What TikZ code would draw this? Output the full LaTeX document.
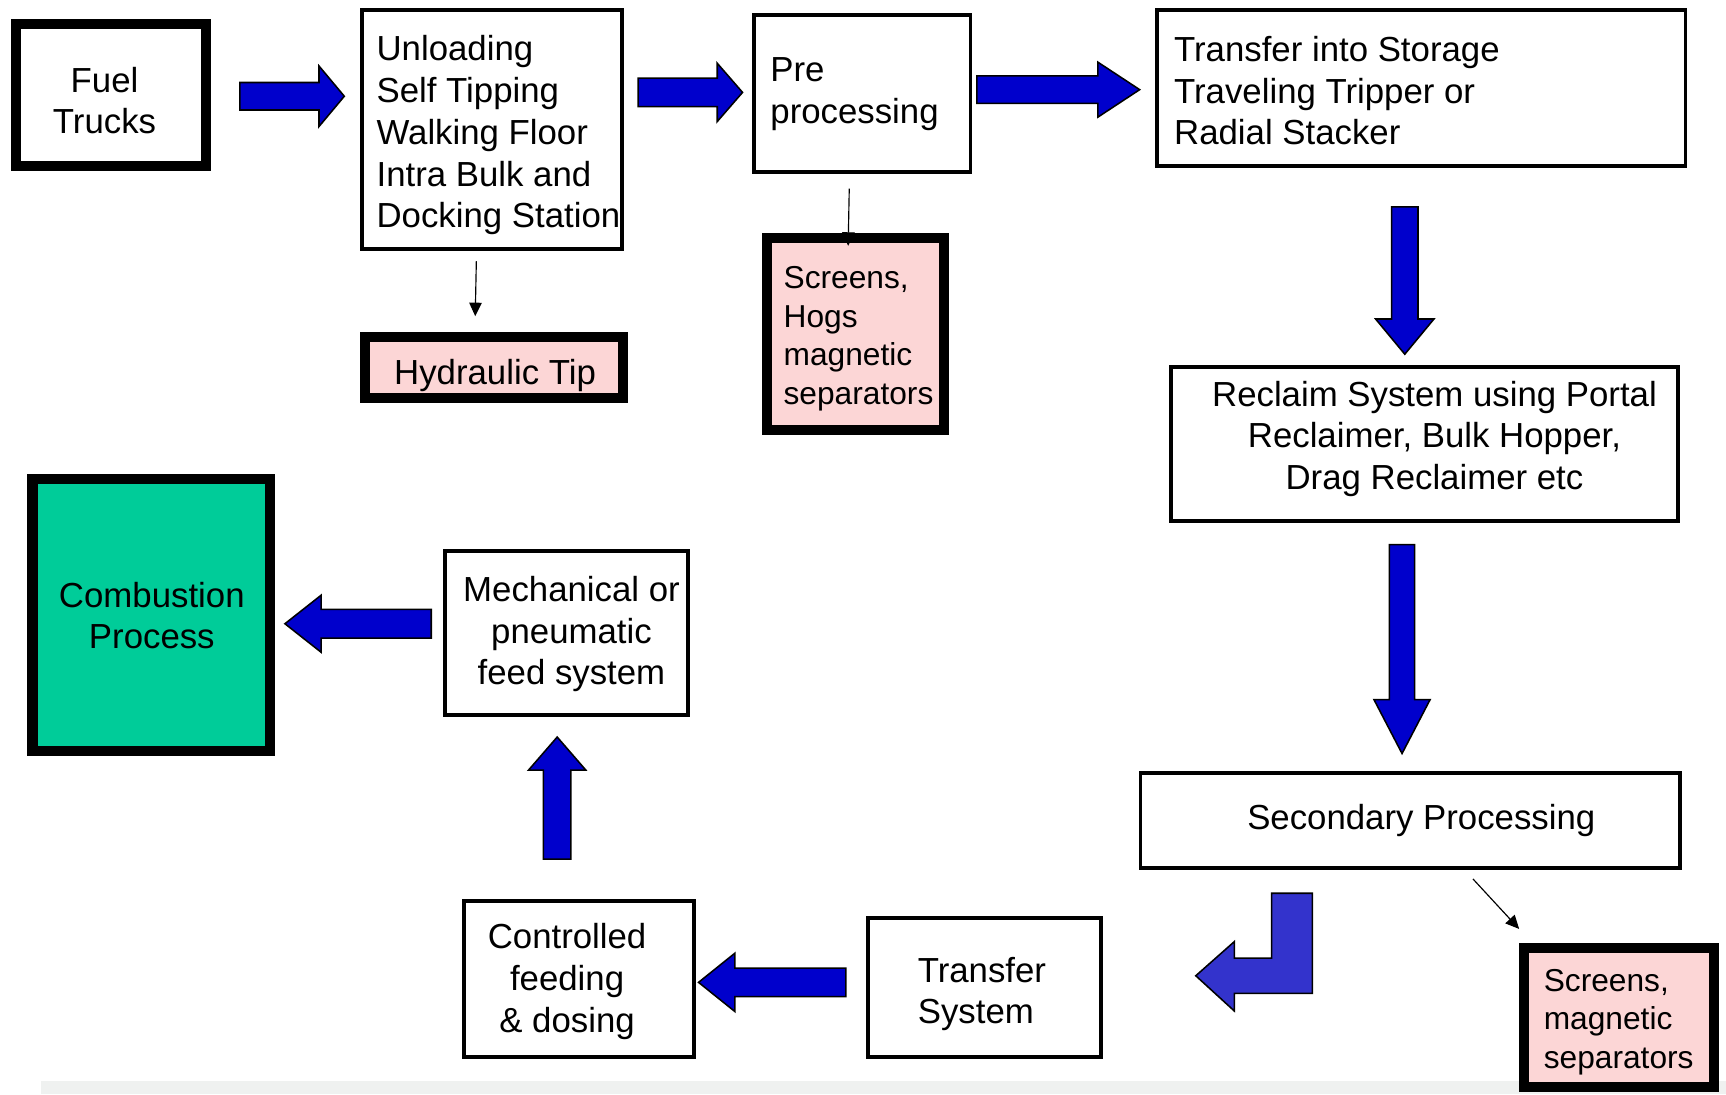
\documentclass[tikz,border=0pt]{standalone}
\usepackage{fontspec}
\setmainfont{Liberation Sans}
\usetikzlibrary{arrows.meta}

\definecolor{flowblue}{RGB}{0,0,204}
\definecolor{bendblue}{RGB}{51,51,204}
\definecolor{sievepink}{RGB}{252,214,214}
\definecolor{burnteal}{RGB}{0,204,153}
\definecolor{stripgray}{RGB}{239,241,240}

\newcommand{\bigfont}{\fontsize{18}{21.6}\selectfont}
\newcommand{\smallfont}{\fontsize{16.4}{19.9}\selectfont}

\tikzset{
  thinbox/.style={draw, line width=2pt, fill=white, inner sep=0pt},
  thickbox/.style={draw, line width=5.2pt, inner sep=0pt},
  sievebox/.style={thickbox, fill=sievepink},
  midtext/.style={inner sep=0pt, font=\bigfont, align=center},
  lefttext/.style={inner sep=0pt, font=\bigfont, align=left, anchor=west},
  flowarrow/.style={fill=flowblue, draw=black, line width=0.8pt},
  thinarrow/.style={-{Triangle[length=7pt,width=6.5pt]}, line width=0.6pt},
  pics/flow/.style n args={4}{code={
    \filldraw[flowarrow] (0,-#2) -- (#1-#4,-#2) -- (#1-#4,-#3) -- (#1,0)
      -- (#1-#4,#3) -- (#1-#4,#2) -- (0,#2) -- cycle;
  }}
}

\begin{document}
\begin{tikzpicture}[x=0.02cm, y=-0.02cm]
    \useasboundingbox (0,0) rectangle (1569,994.5);
    \fill [stripgray] (37,983) rectangle (1569,994.5);

    % top row
    \node [thickbox, minimum width=3.46cm, minimum height=2.58cm] (fuel) at (101,86) {};
    \node [midtext] (fueltxt) at (95,91.5) {Fuel\\Trucks};
    \node [thinbox, minimum width=4.73cm, minimum height=4.35cm] (unload) at (447,117.5) {};
    \node [lefttext] (unloadtxt) at (342,123)
        {Unloading\\Self Tipping\\Walking Floor\\Intra Bulk and\\Docking Station};
    \node [thinbox, minimum width=3.93cm, minimum height=2.85cm] (pre) at (784,85) {};
    \node [lefttext] (pretxt) at (700,85.5) {Pre\\processing};
    \node [thinbox, minimum width=9.61cm, minimum height=2.85cm] (store) at (1292,80) {};
    \node [lefttext] (storetxt) at (1067,82.5) {Transfer into Storage\\Traveling Tripper or\\Radial Stacker};

    \node [sievebox, minimum width=4.70cm, minimum height=1.10cm] (hyd) at (449,334) {};
    \node [midtext] (hydtxt) at (450,341) {Hydraulic Tip};
    \node [sievebox, minimum width=3.22cm, minimum height=3.48cm] (screens) at (778,303.5) {};
    \node [lefttext, font=\smallfont] (screenstxt) at (712,308) {Screens,\\Hogs\\magnetic\\separators};

    % right column
    \node [thinbox, minimum width=9.21cm, minimum height=2.79cm] (reclaim) at (1295,403.5) {};
    \node [midtext] (reclaimtxt) at (1304,399)
        {Reclaim System using Portal\\Reclaimer, Bulk Hopper,\\Drag Reclaimer etc};
    \node [thinbox, minimum width=9.81cm, minimum height=1.73cm] (second) at (1282,746) {};
    \node [midtext] (secondtxt) at (1292,746) {Secondary Processing};
    \node [sievebox, minimum width=3.46cm, minimum height=2.54cm] (screens2) at (1472,925) {};
    \node [lefttext, font=\smallfont] (screens2txt) at (1403,929) {Screens,\\magnetic\\separators};

    % bottom row and feed
    \node [thinbox, minimum width=4.25cm, minimum height=2.53cm] (trans) at (895,898) {};
    \node [lefttext] (transtxt) at (834,903.5) {Transfer\\System};
    \node [thinbox, minimum width=4.19cm, minimum height=2.85cm] (ctrl) at (526.5,890) {};
    \node [midtext] (ctrltxt) at (515.5,892) {Controlled\\feeding\\\& dosing};
    \node [thinbox, minimum width=4.41cm, minimum height=2.99cm] (mech) at (515,575.5) {};
    \node [midtext] (mechtxt) at (519.5,576.5) {Mechanical or\\pneumatic\\feed system};
    \node [thickbox, fill=burnteal, minimum width=4.32cm, minimum height=4.94cm] (comb) at (137.5,559) {};
    \node [midtext] (combtxt) at (138,559.5) {Combustion\\Process};

    % block arrows
    \pic at (218,87.5) {flow={95}{12.5}{27.5}{23}};
    \pic at (580,84) {flow={95}{13}{26.5}{23}};
    \pic at (888,81.5) {flow={148}{12.5}{25}{38}};
    \pic [rotate=-90] at (1277,188) {flow={134}{12}{26.5}{32}};
    \pic [rotate=-90] at (1274.5,495) {flow={190}{11.5}{25.5}{49}};
    \pic [rotate=180] at (769,893) {flow={134}{13}{26.5}{33}};
    \pic [rotate=90] at (506.5,781) {flow={111}{12.5}{26}{30}};
    \pic [rotate=180] at (392,567) {flow={133}{13}{26}{33}};
    \filldraw [flowarrow, fill=bendblue] (1156,812) -- (1193,812) -- (1193,903) -- (1122,903) -- (1122,919) --
        (1087,887) -- (1122,856) -- (1122,871) -- (1156,871) -- cycle;

    % side feeds
    \draw [thinarrow] ([xshift=-0.28cm, yshift=-0.19cm]unload.south) -- ([xshift=-0.34cm, yshift=0.29cm]hyd.north);
    \draw [thinarrow] ([xshift=-0.24cm, yshift=-0.27cm]pre.south) -- ([xshift=-0.14cm, yshift=-0.23cm]screens.north);
    \draw [thinarrow] ([xshift=1.14cm, yshift=-0.16cm]second.south) -- ([yshift=0.25cm]screens2.north west);
\end{tikzpicture}
\end{document}
